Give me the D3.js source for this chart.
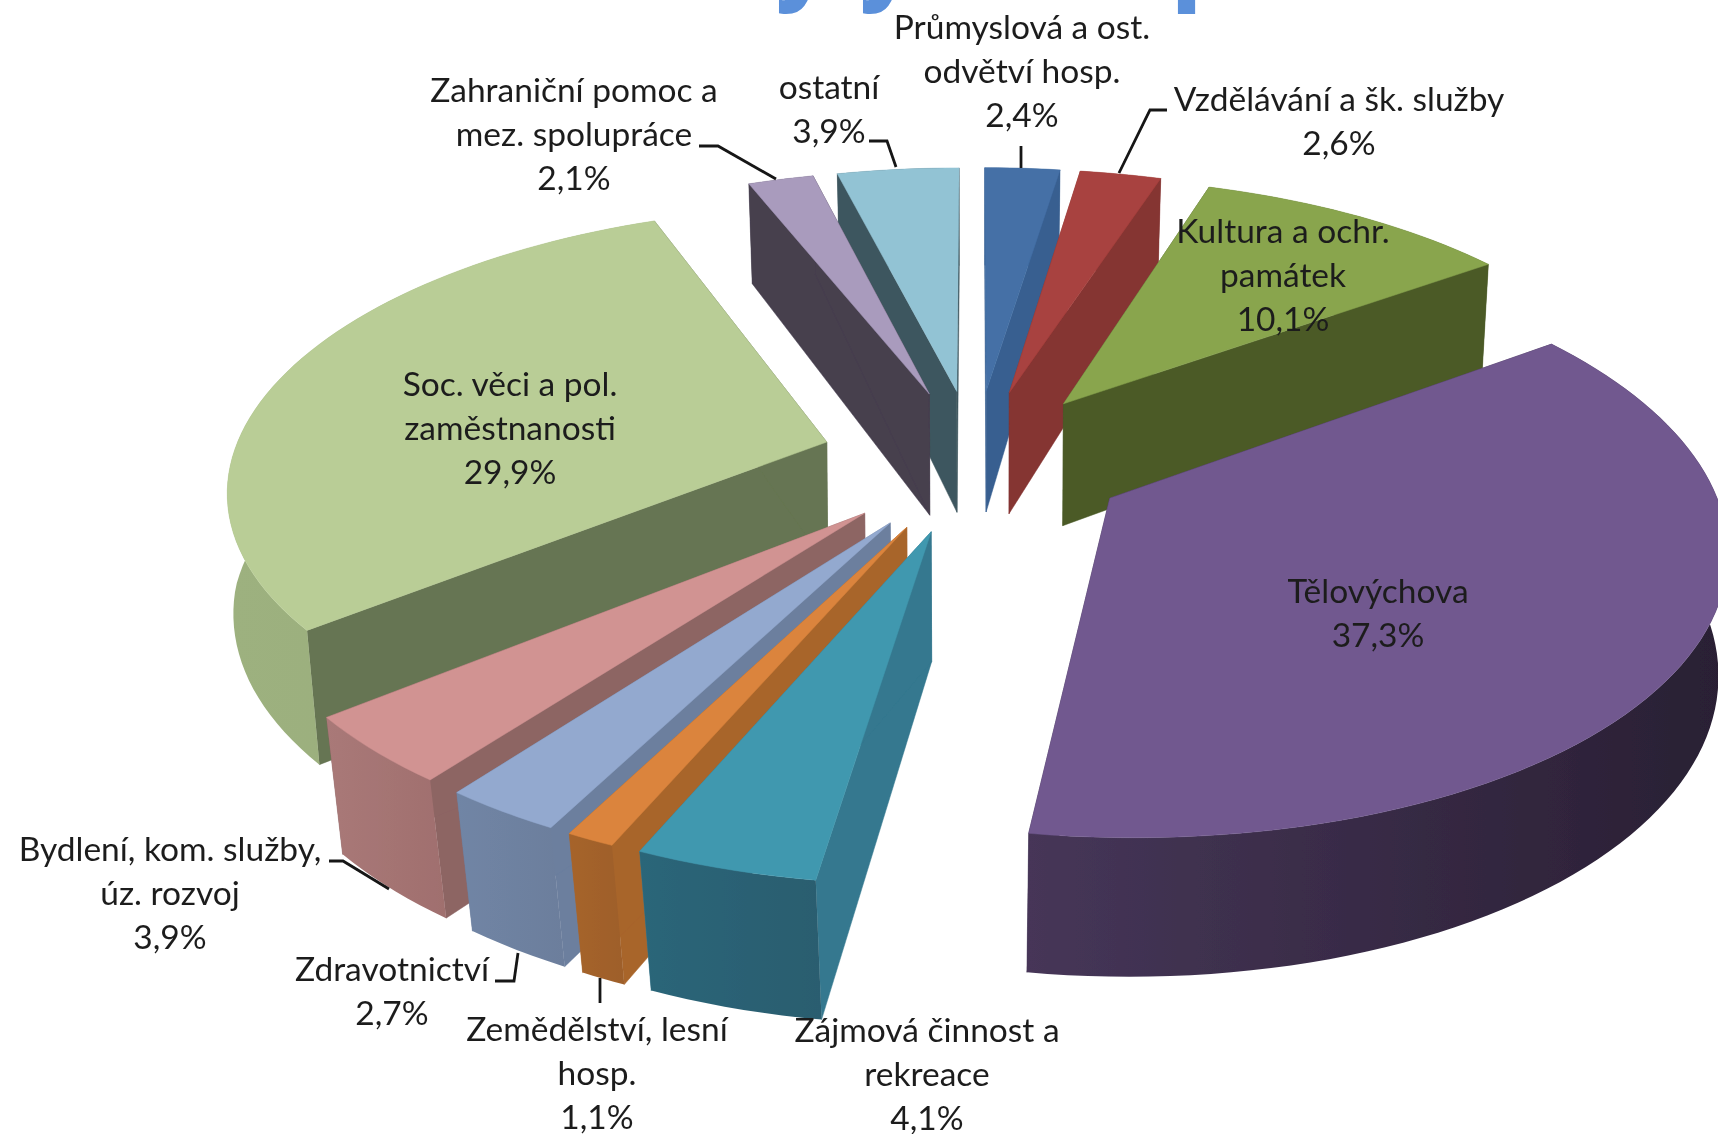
<!DOCTYPE html>
<html lang="cs">
<head>
<meta charset="utf-8">
<title>Pie</title>
<script src="https://cdn.jsdelivr.net/npm/d3@7/dist/d3.min.js"></script>
<style>
html,body{margin:0;padding:0;background:#fff;overflow:hidden}
svg{display:block}
text{font-family:Lato,"Open Sans",sans-serif;fill:#1c1c1c}
</style>
</head>
<body>
<svg id="c" width="1718" height="1134"></svg>
<script>
// Data, clockwise from 12 o'clock
const categories = ["Průmyslová a ost. odvětví hosp.","Vzdělávání a šk. služby","Kultura a ochr. památek","Tělovýchova","Zájmová činnost a rekreace","Zemědělství, lesní hosp.","Zdravotnictví","Bydlení, kom. služby, úz. rozvoj","Soc. věci a pol. zaměstnanosti","Zahraniční pomoc a mez. spolupráce","ostatní"];
const values = [2.4,2.6,10.1,37.3,4.1,1.1,2.7,3.9,29.9,2.1,3.9];

// Styles per slice
const topColors  = ["#4470a6","#a8423f","#89a54e","#71588f","#4198af","#db843d","#93a9cf","#d19392","#b9cd96","#a99bbd","#92c3d4"];
const wallColors = ["#375f90","#853432","#4b5a27","#3e3050","#35788f","#a8652b","#6c7f9e","#8d6564","#667552","#463f4e","#3e565e"];
const rimLeft    = ["#375f90","#853432","#4b5a27","#463658","#2c6679","#a6642c","#7085a5","#a97978","#9db17f","#463f4e","#3e565e"];
const rimRight   = ["#375f90","#853432","#4b5a27","#291f33","#2a5d6f","#9e5f29","#6c7e9c","#a06f6e","#98ab7a","#463f4e","#3e565e"];

// Label layout (separate from data)
const labelLines = [
 ["Průmyslová a ost.","odvětví hosp.","2,4%"],
 ["Vzdělávání a šk. služby","2,6%"],
 ["Kultura a ochr.","památek","10,1%"],
 ["Tělovýchova","37,3%"],
 ["Zájmová činnost a","rekreace","4,1%"],
 ["Zemědělství, lesní","hosp.","1,1%"],
 ["Zdravotnictví","2,7%"],
 ["Bydlení, kom. služby,","úz. rozvoj","3,9%"],
 ["Soc. věci a pol.","zaměstnanosti","29,9%"],
 ["Zahraniční pomoc a","mez. spolupráce","2,1%"],
 ["ostatní","3,9%"]
];
const labelX = [1022,1339,1283,1378,927,597,392,170,510,574,829];
const labelY = [39,111,243,603,1042,1041,981,861,396,102,99];
const lineStep = 44;
const leaders = [
 [[1021,146],[1021,168]],
 [[1167,110],[1150,110],[1119,173]],
 [[329,861],[343,861],[389,889]],
 [[495,981],[514,981],[518,953]],
 [[600,978],[600,1003]],
 [[699,146],[718,146],[776,179]],
 [[869,141],[887,141],[896,167]]
];
const titleBits = [["y",802],["y",886],["p",1201]];

// Projection of the tilted pie
const cx=975, cy=460, A=595, B=276, H=118, K=0.15, MX0=0.006, MXF=0.02, MXB=0.01, MY=0.004, DEPTH_BULGE=0.07, EXPLODE=0.26;
function project(X,Y,low){
  const w = 1 - K*Y;
  const mx = low ? MX0 + MXF*Math.max(Y,0) + MXB*Math.max(-Y,0) : 0;
  const depth = low ? H*(1 + DEPTH_BULGE*(1 - (Y/1.1)*(Y/1.1))) : 0;
  return [cx + A*X/(w+mx), cy + (B*Y + depth)/(w+(low?MY:0))];
}
const rScale = d3.scaleLinear().domain([0,1]).range([0,1]);

const svg = d3.select("#c");
const defs = svg.append("defs");
defs.append("filter").attr("id","soft").attr("x","-5%").attr("y","-5%").attr("width","110%").attr("height","110%")
  .append("feGaussianBlur").attr("stdDeviation",0.7);
defs.append("filter").attr("id","softText").attr("x","-5%").attr("y","-5%").attr("width","110%").attr("height","110%")
  .append("feGaussianBlur").attr("stdDeviation",0.45);

const line = d3.line();
const arcs = d3.pie().sort(null).startAngle(0).endAngle(2*Math.PI)(values).map((d,i)=>{
  const mid=(d.startAngle+d.endAngle)/2;
  return {...d,i,mid,ox:EXPLODE*Math.sin(mid),oy:-EXPLODE*Math.cos(mid)};
});
function pt(d,ang,r,low){
  return project(d.ox+rScale(r)*Math.sin(ang), d.oy-rScale(r)*Math.cos(ang), low);
}
function rim(d,low){
  const n=Math.max(4,Math.ceil((d.endAngle-d.startAngle)/0.03));
  return d3.range(n+1).map(j=>pt(d,d.startAngle+(d.endAngle-d.startAngle)*j/n,1,low));
}

arcs.forEach(d=>{
  const g=defs.append("linearGradient").attr("id","rim"+d.i);
  g.append("stop").attr("offset",0).attr("stop-color",rimLeft[d.i]);
  g.append("stop").attr("offset",1).attr("stop-color",rimRight[d.i]);
});

const chart = svg.append("g").attr("filter","url(#soft)");
const order = arcs.slice().sort((a,b)=>(a.oy)-(b.oy));
const slice = chart.selectAll("g.slice").data(order).join("g").attr("class","slice");

slice.each(function(d){
  const s=d3.select(this);
  [d.startAngle,d.endAngle].forEach(a=>{
    s.append("path").attr("fill",wallColors[d.i]).attr("stroke",wallColors[d.i]).attr("stroke-width",0.5)
     .attr("d",line([pt(d,a,0,false),pt(d,a,1,false),pt(d,a,1,true),pt(d,a,0,true)])+"Z");
  });
  s.append("path").attr("fill","url(#rim"+d.i+")")
   .attr("d",line(rim(d,false).concat(rim(d,true).reverse()))+"Z");
  s.append("path").attr("fill",topColors[d.i]).attr("stroke",topColors[d.i]).attr("stroke-width",0.5)
   .attr("d",line([pt(d,d.startAngle,0,false)].concat(rim(d,false)))+"Z");
});

// Clipped title remnants
svg.selectAll("text.t").data(titleBits).join("text").attr("class","t")
  .attr("x",d=>d[1]).attr("y",-8).attr("text-anchor","middle")
  .attr("font-size",90).attr("font-weight",800).style("font-family","'Open Sans',sans-serif").style("fill","#5b90da").text(d=>d[0]);

// Leader lines
svg.append("g").attr("filter","url(#softText)").selectAll("path").data(leaders).join("path")
  .attr("fill","none").attr("stroke","#141414").attr("stroke-width",2.8)
  .attr("d",d=>line(d));

// Labels
const lab = svg.append("g").attr("filter","url(#softText)").attr("font-size",33.5).attr("text-anchor","middle").selectAll("text.l")
  .data(arcs).join("text").attr("class","l")
  .attr("x",d=>labelX[d.i]).attr("y",d=>labelY[d.i]);
lab.selectAll("tspan").data(d=>labelLines[d.i].map((t,j)=>({t,j,i:d.i}))).join("tspan")
  .attr("x",d=>labelX[d.i]).attr("y",d=>labelY[d.i]+d.j*lineStep).text(d=>d.t);
</script>
</body>
</html>
